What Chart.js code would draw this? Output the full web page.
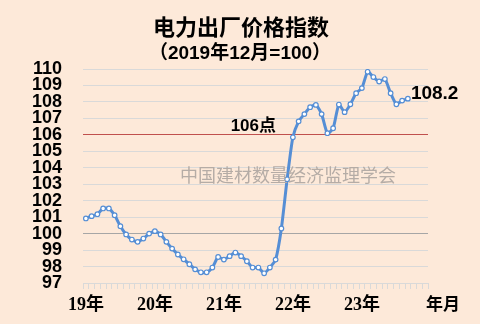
<!DOCTYPE html>
<html><head><meta charset="utf-8">
<script src="https://cdn.jsdelivr.net/npm/chart.js@4.4.1/dist/chart.umd.min.js"></script>
<style>html,body{margin:0;padding:0;background:#FDE9D9;}#wrap{width:480px;height:324px;position:relative;}</style>
</head><body><div id="wrap"><canvas id="c" width="480" height="324"></canvas></div>
<script>
// Monthly categories Jan 2019 .. Dec 2023
const years = ['19', '20', '21', '22', '23'];
const months = [];
years.forEach(y => { for (let m = 1; m <= 12; m++) months.push(y + '年' + m + '月'); });
// Tick labels shown on x axis (first month of each year)
const yearLabels = ['19年', '20年', '21年', '22年', '23年'];
// Power ex-factory price index (2019-12 = 100), Jan 2019 .. Sep 2023
const indexValues = [
  100.92, 101.06, 101.18, 101.53, 101.53, 101.12, 100.45, 99.95, 99.64, 99.50, 99.70, 100.00,
  100.15, 99.95, 99.50, 99.09, 98.73, 98.44, 98.14, 97.83, 97.65, 97.65, 97.94, 98.58,
  98.42, 98.63, 98.85, 98.63, 98.32, 97.94, 97.94, 97.59, 97.94, 98.42, 100.31, 103.30,
  105.85, 106.82, 107.26, 107.68, 107.82, 107.26, 106.10, 106.40, 107.84, 107.38, 107.86, 108.53,
  108.84, 109.83, 109.51, 109.24, 109.39, 108.53, 107.86, 108.08, 108.20
];
const yTicks = [97, 98, 99, 100, 101, 102, 103, 104, 105, 106, 107, 108, 109, 110];
const refLine = 106;
const baseLine = 100;
const lastLabel = '108.2';

const textPlugin = {
  id: 'texts',
  afterDraw(chart) {
    const ctx = chart.ctx;
    const y = chart.scales.y;
    ctx.save();
    ctx.fillStyle = '#000';
    ctx.textAlign = 'center';
    ctx.textBaseline = 'middle';
    ctx.font = 'bold 22px "Noto Sans CJK SC"';
    ctx.fillText('电力出厂价格指数', 241, 27);
    ctx.font = 'bold 19px "Liberation Sans", "Noto Sans CJK SC"';
    ctx.fillText('（2019年12月=100）', 240, 54);
    // watermark
    ctx.fillStyle = '#b5aca6';
    ctx.font = '18px "Noto Sans CJK SC"';
    ctx.textAlign = 'left';
    ctx.fillText('中国建材数量经济监理学会', 180, 175);
    // 106 label
    ctx.fillStyle = '#000';
    ctx.font = 'bold 17px "Liberation Sans", "Noto Sans CJK SC"';
    ctx.textAlign = 'right';
    ctx.fillText(refLine + '点', 276, y.getPixelForValue(refLine) - 9);
    // last value label
    const meta = chart.getDatasetMeta(0);
    const lp = meta.data[meta.data.length - 1];
    ctx.textAlign = 'left';
    ctx.font = 'bold 19px "Liberation Sans"';
    ctx.fillText(lastLabel, lp.x + 3, lp.y - 5);
    // axis unit
    ctx.font = 'bold 17px "Liberation Serif", "Noto Sans CJK SC"';
    ctx.textAlign = 'center';
    ctx.fillText('年月', 443, 306);
    ctx.restore();
  }
};

new Chart(document.getElementById('c'), {
  type: 'line',
  data: {
    labels: months,
    datasets: [{
      data: indexValues,
      borderColor: '#558ED5',
      borderWidth: 3,
      tension: 0.2,
      pointRadius: 2.3,
      pointBorderWidth: 1.2,
      pointBackgroundColor: '#ffffff',
      pointBorderColor: '#558ED5'
    }]
  },
  options: {
    responsive: false,
    animation: false,
    events: [],
    layout: { padding: { top: 69, right: 52, left: 0, bottom: 0 } },
    plugins: { legend: { display: false }, tooltip: { enabled: false }, title: { display: false } },
    scales: {
      x: {
        type: 'category',
        offset: true,
        afterFit(s) { s.height = 41; },
        grid: { display: true, offset: true, drawOnChartArea: false, drawTicks: true, tickLength: 6, color: '#d9d9d9', lineWidth: 1 },
        border: { display: true, color: '#d9d9d9', width: 1 },
        ticks: {
          autoSkip: false, maxRotation: 0, padding: 6, color: '#000',
          font: { family: '"Liberation Serif", "Noto Sans CJK SC"', size: 18, weight: 'bold' },
          callback(v, i) { return i % 12 === 0 ? yearLabels[i / 12] : ''; }
        }
      },
      y: {
        min: yTicks[0], max: yTicks[yTicks.length - 1],
        afterFit(s) { s.width = 83; },
        afterBuildTicks(s) { s.ticks = yTicks.map(v => ({ value: v })); },
        grid: {
          drawTicks: false,
          color(c) {
            const v = c.tick && c.tick.value;
            if (v === refLine) return '#c0504d';
            if (v === baseLine) return '#a6a6a6';
            if (v === yTicks[0]) return 'rgba(0,0,0,0)';
            return '#d9d9d9';
          },
          lineWidth: 1
        },
        border: { display: false },
        ticks: {
          autoSkip: false, padding: 21, color: '#000',
          font: { family: '"Liberation Sans"', size: 18, weight: 'bold' },
          callback(v) { return String(v); }
        }
      }
    }
  },
  plugins: [textPlugin]
});
</script></body></html>
